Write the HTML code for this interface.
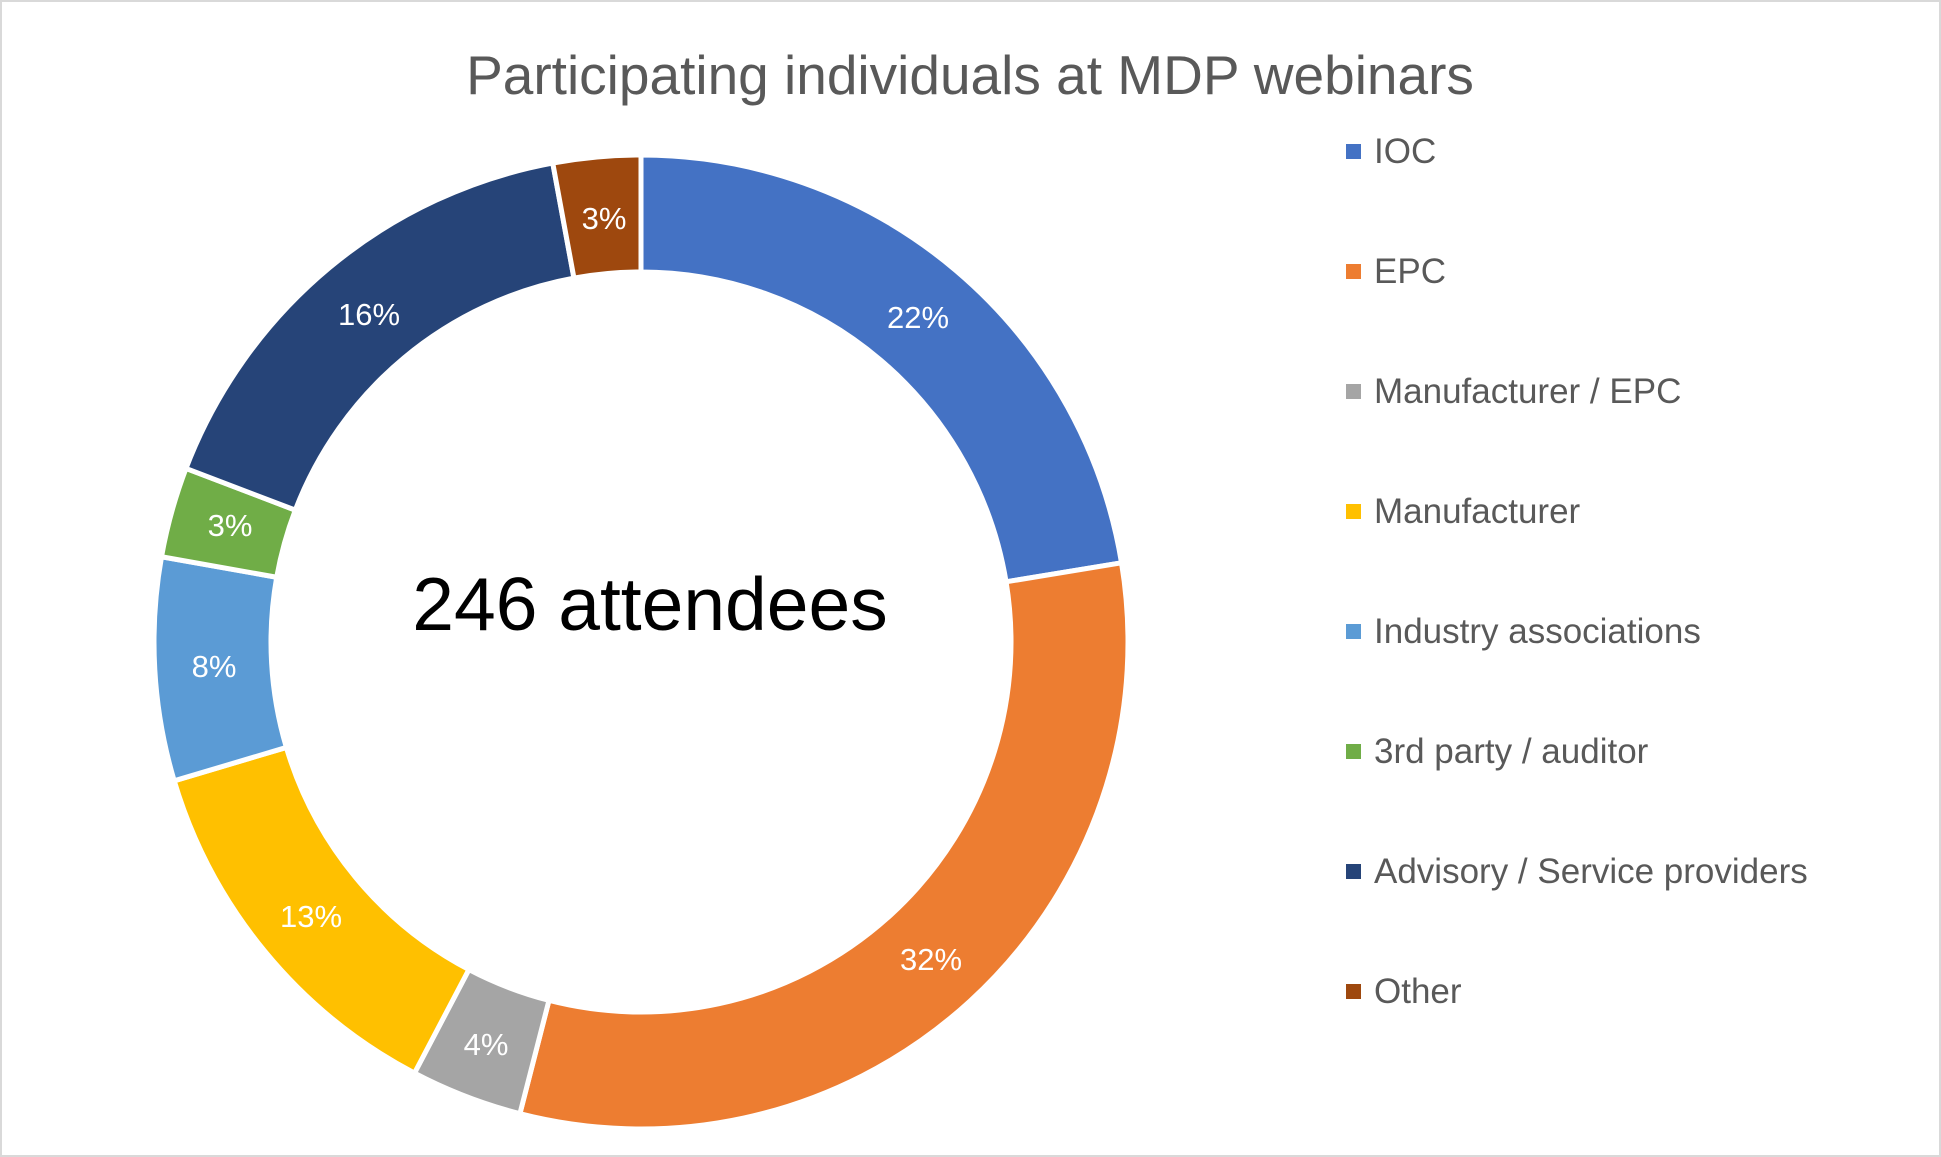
<!DOCTYPE html>
<html><head><meta charset="utf-8"><style>
html,body{margin:0;padding:0;background:#fff}
svg{display:block}
text{font-family:"Liberation Sans",sans-serif}
</style></head><body>
<svg id="s" width="1941" height="1157" viewBox="0 0 1941 1157" xmlns="http://www.w3.org/2000/svg">
<rect x="1" y="1" width="1939" height="1155" fill="#fff" stroke="#d9d9d9" stroke-width="2"/>
<text x="970" y="94" font-size="55" fill="#595959" text-anchor="middle">Participating individuals at MDP webinars</text>
<g id="ring"></g>
<text x="650" y="630" font-size="75" fill="#000" text-anchor="middle">246 attendees</text>
<g font-size="31" fill="#fff" text-anchor="middle">
<text x="918" y="328">22%</text>
<text x="931" y="970">32%</text>
<text x="486" y="1055">4%</text>
<text x="311" y="927">13%</text>
<text x="214" y="677">8%</text>
<text x="230" y="536">3%</text>
<text x="369" y="325">16%</text>
<text x="604" y="229">3%</text>
</g>
<g font-size="35" fill="#595959">
<rect x="1346" y="144" width="15" height="15" fill="#4472c4"/><text x="1374" y="163">IOC</text>
<rect x="1346" y="264" width="15" height="15" fill="#ed7d31"/><text x="1374" y="283">EPC</text>
<rect x="1346" y="384" width="15" height="15" fill="#a5a5a5"/><text x="1374" y="403">Manufacturer / EPC</text>
<rect x="1346" y="504" width="15" height="15" fill="#ffc000"/><text x="1374" y="523">Manufacturer</text>
<rect x="1346" y="624" width="15" height="15" fill="#5b9bd5"/><text x="1374" y="643">Industry associations</text>
<rect x="1346" y="744" width="15" height="15" fill="#70ad47"/><text x="1374" y="763">3rd party / auditor</text>
<rect x="1346" y="864" width="15" height="15" fill="#264478"/><text x="1374" y="883">Advisory / Service providers</text>
<rect x="1346" y="984" width="15" height="15" fill="#9e480e"/><text x="1374" y="1003">Other</text>
</g>
</svg>
<script>
var cx=641,cy=642,R=487,r=370;
var cum=[0,22.4,54.0,57.7,70.4,77.8,80.8,97.1,100];
var col=["#4472c4","#ed7d31","#a5a5a5","#ffc000","#5b9bd5","#70ad47","#264478","#9e480e"];
function pt(rad,p){var a=p/100*2*Math.PI;return [cx+rad*Math.sin(a),cy-rad*Math.cos(a)];}
var g=document.getElementById("ring"),h="";
for(var i=0;i<8;i++){var a=cum[i],b=cum[i+1],L=(b-a)>50?1:0;
var p1=pt(R,a),p2=pt(R,b),p3=pt(r,b),p4=pt(r,a);
h+='<path d="M'+p1+' A'+R+','+R+' 0 '+L+' 1 '+p2+' L'+p3+' A'+r+','+r+' 0 '+L+' 0 '+p4+' Z" fill="'+col[i]+'" stroke="#fff" stroke-width="5" stroke-linejoin="round"/>';}
g.innerHTML=h;
</script>
</body></html>
